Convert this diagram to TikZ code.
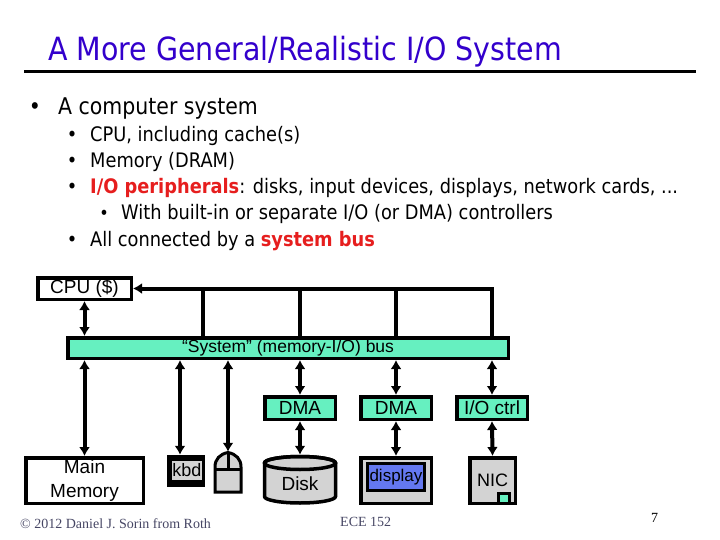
\documentclass[tikz,border=0pt]{standalone}
\usepackage{fontspec}
\setmainfont{Liberation Sans}
\newfontfamily\tahoma[FakeStretch=0.89]{DejaVu Sans}
\newfontfamily\timesf{Liberation Serif}
\usetikzlibrary{arrows.meta,calc}
\definecolor{titleblue}{RGB}{51,0,204}
\definecolor{hired}{RGB}{230,30,30}
\definecolor{aqua}{RGB}{102,240,192}
\definecolor{devgray}{RGB}{211,211,211}
\definecolor{scrblue}{RGB}{100,120,240}
\definecolor{footgray}{RGB}{70,70,100}

\begin{document}
\begin{tikzpicture}[x=1pt,y=-1pt,
  box/.style={draw,line width=3.5pt,inner sep=0pt,align=center,font=\fontsize{19}{24}\selectfont},
  ctrl/.style={box,fill=aqua,minimum width=70.5,minimum height=22.5},
  txt/.style={anchor=base west,inner sep=0pt},
  dot/.style={anchor=base,inner sep=0pt},
  wire/.style={line width=4pt},
  link/.style={wire,<->},
  >={Latex[length=9pt,width=11pt]}]
\useasboundingbox (0,0) rectangle (720,540);
% title
\node[txt,font=\tahoma\fontsize{32}{34}\selectfont,text=titleblue] (title) at (48,61) {A More General/Realistic I/O System};
\draw[line width=3pt] (24,72) -- (696,72);
% bullets
\node[dot,font=\tahoma\fontsize{23}{25}\selectfont] (b1) at (35,115) {•};
\node[txt,font=\tahoma\fontsize{23}{25}\selectfont] (t1) at (58,115) {A computer system};
\node[dot,font=\tahoma\fontsize{20}{22}\selectfont] (b2) at (72,142) {•};
\node[txt,font=\tahoma\fontsize{20}{22}\selectfont] (t2) at (90,142) {CPU, including cache(s)};
\node[dot,font=\tahoma\fontsize{20}{22}\selectfont] (b3) at (72,168) {•};
\node[txt,font=\tahoma\fontsize{20}{22}\selectfont] (t3) at (90,168) {Memory (DRAM)};
\node[dot,font=\tahoma\fontsize{20}{22}\selectfont] (b4) at (72,194) {•};
\node[txt,font=\tahoma\fontsize{20}{22}\selectfont] (t4) at (90,194) {{\bfseries\color{hired}I/O peripherals}: disks, input devices, displays, network cards, ...};
\node[dot,font=\tahoma\fontsize{18}{20}\selectfont] (b5) at (104,220) {•};
\node[txt,font=\tahoma\fontsize{20}{22}\selectfont] (t5) at (121,220) {With built-in or separate I/O (or DMA) controllers};
\node[dot,font=\tahoma\fontsize{20}{22}\selectfont] (b6) at (72,247) {•};
\node[txt,font=\tahoma\fontsize{20}{22}\selectfont] (t6) at (90,247) {All connected by a {\bfseries\color{hired}system bus}};
% cpu and bus
\node[box,minimum width=93.5,minimum height=21.5] (cpu) at (84.5,288.5) {CPU (\$)};
\node[box,fill=aqua,minimum width=440.5,minimum height=20.5,font=\fontsize{17.5}{19}\selectfont] (bus) at (288,348) {“System” (memory-I/O) bus};
% controllers
\node[ctrl] (dmaA) at (300,408) {DMA};
\node[ctrl] (dmaB) at (396,408) {DMA};
\node[ctrl] (ioctl) at (492,408) {I/O ctrl};
% devices
\node[box,minimum width=117.5,minimum height=45.5] (mem) at (84.5,480.5) {Main\\Memory};
\node[fill=black,minimum width=38,minimum height=32,inner sep=0pt] (kbd) at (186,471) {};
\node[fill=devgray,minimum width=28,minimum height=19,inner sep=0pt,font=\fontsize{18}{19}\selectfont] (keys) at (187,470.5) {kbd};
\node[minimum width=26,minimum height=41,inner sep=0pt] (mouse) at (228,472.5) {};
\draw[line width=3pt,fill=devgray] (215,492) -- (215,467) .. controls (215,459) and (220,454) .. (228,452.5)
  .. controls (236,454) and (241,459) .. (241,467) -- (241,492) -- cycle;
\draw[line width=3pt] (215,469) -- (241,469) (228,452.5) -- (228,469);
\node[minimum width=74,minimum height=50,inner sep=0pt] (disk) at (300,480) {};
\draw[line width=3.5pt,fill=devgray] (264.5,463) -- (264.5,496.5) arc[start angle=180,end angle=0,x radius=35.5,y radius=6.5]
  -- (335.5,463) arc[start angle=0,end angle=-180,x radius=35.5,y radius=6.5] -- cycle;
\draw[line width=3.5pt] (300,463) ellipse[x radius=35.5,y radius=6.5];
\node[font=\fontsize{19}{21}\selectfont] (disktxt) at (300,484) {Disk};
\node[box,fill=devgray,minimum width=70.5,minimum height=45.5] (display) at (396,480.5) {};
\node[box,line width=3pt,fill=scrblue,minimum width=57,minimum height=27,font=\fontsize{17}{18}\selectfont] (screen) at (396,477) {display};
\node[box,fill=devgray,minimum width=45.5,minimum height=45.5,font=\fontsize{18}{19}\selectfont] (nic) at (492.5,480.5) {NIC};
\node[draw,line width=3pt,fill=aqua,minimum width=11,minimum height=10,inner sep=0pt] (port) at (504,498.5) {};
% wires
\coordinate (tap) at (203,288);
\coordinate (kbdin) at ($(kbd.north)+(-6,0)$);
\draw[link] (cpu.south) -- (cpu.south |- bus.north);
\draw[wire,->] (ioctl |- bus.north) -- (ioctl |- cpu.east) -- (cpu.east);
\draw[wire] (dmaB |- bus.north) -- (dmaB |- cpu.east);
\draw[wire] (dmaA |- bus.north) -- (dmaA |- cpu.east);
\draw[wire] (tap |- bus.north) -- (tap);
\draw[link] (bus.south -| mem.north) -- (mem.north);
\draw[link] (kbdin |- bus.south) -- (kbdin);
\draw[link] (bus.south -| mouse.north) -- (mouse.north);
\draw[link] (bus.south -| dmaA.north) -- (dmaA.north);
\draw[link] (bus.south -| dmaB.north) -- (dmaB.north);
\draw[link] (bus.south -| ioctl.north) -- (ioctl.north);
\draw[link] (dmaA.south) -- (disk.north);
\draw[link] (dmaB.south) -- (display.north);
\draw[link] (ioctl.south) -- (nic.north);
% footer
\node[txt,font=\timesf\fontsize{14}{16}\selectfont,text=footgray] (copy) at (20,528) {© 2012 Daniel J. Sorin from Roth};
\node[txt,font=\timesf\fontsize{14}{16}\selectfont,text=footgray] (course) at (340,526) {ECE 152};
\node[txt,font=\timesf\fontsize{14}{16}\selectfont] (page) at (651,522) {7};
\end{tikzpicture}
\end{document}
